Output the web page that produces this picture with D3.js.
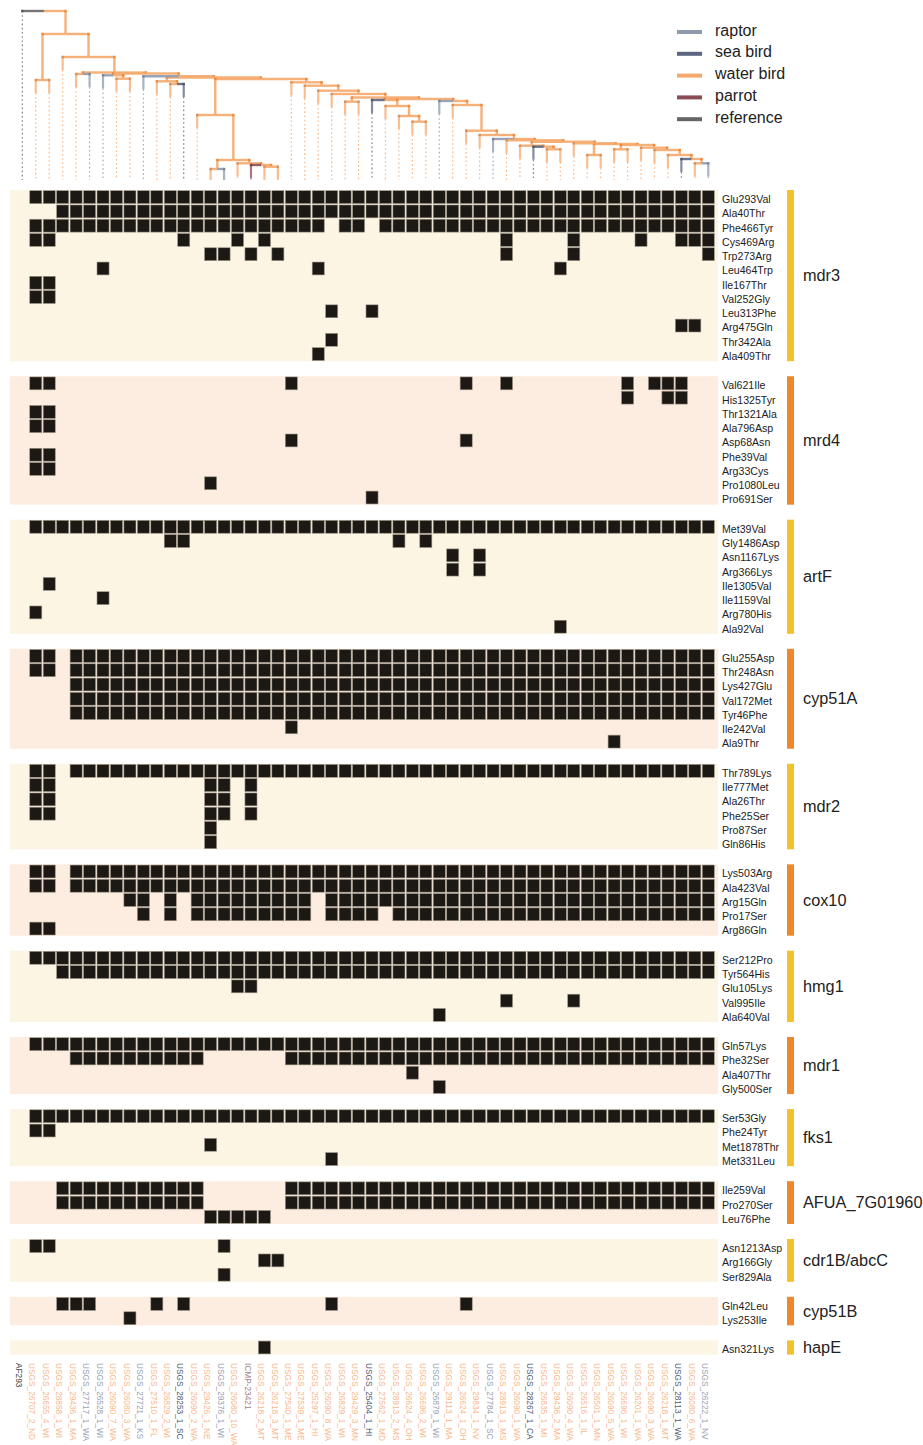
<!DOCTYPE html>
<html><head><meta charset="utf-8">
<script src="https://cdn.jsdelivr.net/npm/d3@7"></script>
<style>
body{margin:0;background:#fff;}
svg{display:block;font-family:"Liberation Sans",Arial,Helvetica,sans-serif;}
</style></head><body>
<svg id="chart" width="923" height="1445"></svg>
<script>
// Isolates, in dendrogram leaf order
const strains = ["AF293","USGS_26707_2_ND","USGS_26655_4_WI","USGS_28858_1_WI","USGS_29436_1_MA","USGS_27717_1_WA","USGS_26528_1_WI","USGS_26090_7_WA","USGS_26080_3_WA","USGS_27721_1_KS","USGS_27510_1_FL","USGS_26829_2_WI","USGS_28253_1_SC","USGS_26090_2_WA","USGS_29426_1_NE","USGS_29376_1_WI","USGS_26080_10_WA","ICMP-23421","USGS_26218_2_MT","USGS_26218_3_MT","USGS_27540_1_ME","USGS_27539_1_ME","USGS_25297_1_HI","USGS_26090_8_WA","USGS_26829_1_WI","USGS_29429_3_MN","USGS_25404_1_HI","USGS_27562_1_MD","USGS_28913_2_MS","USGS_26624_4_OH","USGS_26696_2_WI","USGS_26879_1_WI","USGS_29113_1_MA","USGS_26624_1_OH","USGS_29834_1_NV","USGS_27784_1_SC","USGS_28913_1_MS","USGS_26090_1_WA","USGS_28267_1_CA","USGS_26835_1_MI","USGS_29436_2_MA","USGS_26090_4_WA","USGS_26516_1_IL","USGS_26501_1_MN","USGS_26090_5_WA","USGS_26696_1_WI","USGS_26201_1_WA","USGS_26090_3_WA","USGS_26218_1_MT","USGS_28113_1_WA","USGS_26080_6_WA","USGS_26222_1_NV"];

// Host group of each isolate
const hosts = ["reference","water bird","water bird","water bird","water bird","raptor","raptor","water bird","water bird","raptor","water bird","water bird","sea bird","water bird","water bird","raptor","water bird","parrot","water bird","water bird","water bird","water bird","water bird","water bird","water bird","water bird","sea bird","water bird","water bird","water bird","water bird","raptor","water bird","water bird","water bird","raptor","water bird","water bird","sea bird","water bird","water bird","water bird","water bird","water bird","water bird","water bird","water bird","water bird","water bird","sea bird","water bird","raptor"];

const hostGroups = ["raptor","sea bird","water bird","parrot","reference"];
const hostColors = ["#8e9aae","#5c6580","#f5a86c","#8b4d55","#666666"];
const hostLabelColors = ["#98a1b4","#525b76","#f8b88c","#a1838a","#444444"];

// Dendrogram: [height, left, right]; leaves are isolate indices
const tree =
[1.69, 0,
 [1.46,
  [1.00, 1, 2],
  [1.23, 3,
   [1.075,
    [1.06, 4, 5],
    [1.065,
     [1.047, 6, [1.013, 7, 8]],
     [1.037, 9,
      [1.025,
       [0.987, 10, [0.96, 11, 12]],
       [1.01,
        [0.65, 13, [0.20, [0.11, 14, 15], [0.167, 16, [0.15, 17, [0.133, 18, 19]]]]],
        [0.977, 20, [0.943, 21, [0.893, 22, [0.86, 23,
         [0.825, [0.783, 24, 25],
          [0.81,
           [0.80, 26, [0.74, 27, [0.64, 28, [0.583, 29, 30]]]],
           [0.79, 31, [0.75, 32, [0.493, 33, [0.45, 34, [0.41, 35, [0.397, 36,
            [0.383,
             [0.343, 37, [0.333, 38, [0.307, 39, 40]]],
             [0.367, 41, [0.36, [0.25, 42, 43],
               [0.35, [0.307, 44, 45], [0.323, 46, [0.30, 47, [0.25, 48, [0.21, 49, [0.167, 50, 51]]]]]]]]
            ]]]]]]]
          ]
         ]
        ]]]]
       ]
      ]
     ]
    ]
   ]
  ]
 ]
];

// Genes and their variants; each variant lists the isolate columns carrying it
const genes = ["mdr3","mrd4","artF","cyp51A","mdr2","cox10","hmg1","mdr1","fks1","AFUA_7G01960","cdr1B/abcC","cyp51B","hapE"];

const mdr3 = [
  ["Glu293Val","1-51"],["Ala40Thr","3-51"],["Phe466Tyr","1-22,24,25,27-51"],
  ["Cys469Arg","1,2,12,16,18,36,41,46,49,50,51"],["Trp273Arg","14,15,17,19,36,41,51"],
  ["Leu464Trp","6,22,40"],["Ile167Thr","1,2"],["Val252Gly","1,2"],["Leu313Phe","23,26"],
  ["Arg475Gln","49,50"],["Thr342Ala","23"],["Ala409Thr","22"]];
const mrd4 = [
  ["Val621Ile","1,2,20,33,36,45,47,48,49"],["His1325Tyr","45,48,49"],["Thr1321Ala","1,2"],
  ["Ala796Asp","1,2"],["Asp68Asn","20,33"],["Phe39Val","1,2"],["Arg33Cys","1,2"],
  ["Pro1080Leu","14"],["Pro691Ser","26"]];
const artF = [
  ["Met39Val","1-51"],["Gly1486Asp","11,12,28,30"],["Asn1167Lys","32,34"],["Arg366Lys","32,34"],
  ["Ile1305Val","2"],["Ile1159Val","6"],["Arg780His","1"],["Ala92Val","40"]];
const cyp51A = [
  ["Glu255Asp","1,2,4-51"],["Thr248Asn","1,2,4-51"],["Lys427Glu","4-51"],["Val172Met","4-51"],
  ["Tyr46Phe","4-51"],["Ile242Val","20"],["Ala9Thr","44"]];
const mdr2 = [
  ["Thr789Lys","1,2,4-51"],["Ile777Met","1,2,14,15,17"],["Ala26Thr","1,2,14,15,17"],
  ["Phe25Ser","1,2,14,15,17"],["Pro87Ser","14"],["Gln86His","14"]];
const cox10 = [
  ["Lys503Arg","1,2,4-51"],["Ala423Val","1,2,4-51"],["Arg15Gln","8,9,11,13-21,23-51"],
  ["Pro17Ser","9,11,13-21,23-26,28-51"],["Arg86Gln","1,2"]];
const hmg1 = [
  ["Ser212Pro","1-51"],["Tyr564His","3-51"],["Glu105Lys","16,17"],["Val995Ile","36,41"],["Ala640Val","31"]];
const mdr1 = [
  ["Gln57Lys","1-51"],["Phe32Ser","4-13,20-51"],["Ala407Thr","29"],["Gly500Ser","31"]];
const fks1 = [
  ["Ser53Gly","1-51"],["Phe24Tyr","1,2"],["Met1878Thr","14"],["Met331Leu","23"]];
const afua7g01960 = [
  ["Ile259Val","3-13,20-51"],["Pro270Ser","3-13,20-51"],["Leu76Phe","14-18"]];
const cdr1b = [
  ["Asn1213Asp","1,2,15"],["Arg166Gly","18,19"],["Ser829Ala","15"]];
const cyp51B = [
  ["Gln42Leu","3,4,5,10,12,23,33"],["Lys253Ile","8"]];
const hapE = [["Asn321Lys","18"]];

const variantsByGene = [mdr3, mrd4, artF, cyp51A, mdr2, cox10, hmg1, mdr1, fks1, afua7g01960, cdr1b, cyp51B, hapE];

// ---------- helpers ----------
function parseCols(s){
  const out = [];
  s.split(",").forEach(p => {
    const [a,b] = p.split("-").map(Number);
    if (b === undefined) out.push(a); else for (let i=a;i<=b;i++) out.push(i);
  });
  return out;
}
const hostColor = d3.scaleOrdinal().domain(hostGroups).range(hostColors);
const hostLabelColor = d3.scaleOrdinal().domain(hostGroups).range(hostLabelColors);

const svg = d3.select("#chart");

// ---------- layout ----------
const x = d3.scaleBand().domain(strains).range([15.6, 715]).padding(0);
const bw = x.bandwidth();
const yTree = d3.scaleLinear().domain([0, 1.69]).range([180, 11]);

const rowH = 14.27, blockGap = 15, heatTop = 190;
const panelLeft = 10, panelRight = 718;

// ---------- dendrogram ----------
const root = d3.hierarchy(tree, d => Array.isArray(d) ? d.slice(1) : null);
root.eachAfter(n => {
  n.h = Array.isArray(n.data) ? n.data[0] : 0;
  n.px = n.children ? d3.mean(n.children, c => c.px) : x(strains[n.data]) + bw/2;
  n.py = yTree(n.h);
});

const gTree = svg.append("g");
const waterColor = hostColor("water bird");
const links = root.descendants().filter(n => n.parent);
links.sort((a,b) => (a.children ? 0 : 1) - (b.children ? 0 : 1));

links.forEach(n => {
  const p = n.parent;
  const col = n.children ? waterColor : hostColor(hosts[n.data]);
  const isRef = !n.children && hosts[n.data] === "reference";
  // horizontal from child towards parent centre
  gTree.append("line")
    .attr("x1", n.px).attr("x2", p.px).attr("y1", p.py).attr("y2", p.py)
    .attr("stroke", col).attr("stroke-width", 2.4).attr("stroke-opacity", 0.9);
  if (n.children) {
    gTree.append("line")
      .attr("x1", n.px).attr("x2", n.px).attr("y1", p.py).attr("y2", n.py)
      .attr("stroke", col).attr("stroke-width", 2.4).attr("stroke-opacity", 0.9);
  } else {
    const solidEnd = isRef ? p.py : Math.min(p.py + 13, 180);
    if (!isRef) {
      gTree.append("line")
        .attr("x1", n.px).attr("x2", n.px).attr("y1", p.py).attr("y2", solidEnd)
        .attr("stroke", col).attr("stroke-width", 2.2).attr("stroke-opacity", 0.75);
    }
    gTree.append("line")
      .attr("x1", n.px).attr("x2", n.px).attr("y1", solidEnd).attr("y2", 180)
      .attr("stroke", col).attr("stroke-width", 1.2).attr("stroke-opacity", 0.8)
      .attr("stroke-dasharray", "1.6,2.6");
  }
  // small knot where a branch meets its parent
  gTree.append("rect")
    .attr("x", n.px - 1.2).attr("y", p.py - 1.2).attr("width", 2.4).attr("height", 2.4)
    .attr("fill", n.children ? "#ef8a3c" : d3.color(col).darker(0.4));
});

// ---------- legend ----------
const legend = svg.append("g");
hostGroups.forEach((g, i) => {
  const ly = 32 + i * 21.8;
  legend.append("line").attr("x1", 677).attr("x2", 702).attr("y1", ly).attr("y2", ly)
    .attr("stroke", hostColor(g)).attr("stroke-width", 4);
  legend.append("text").attr("x", 715).attr("y", ly).attr("dy", "0.22em")
    .attr("font-size", 16).attr("fill", "#222").text(g);
});

// ---------- heatmap blocks ----------
const bgFill = ["#fcf5e4", "#fdede0"];
const barFill = ["#f2c12e", "#f0872b"];
let blockTop = heatTop;
const gHeat = svg.append("g");
genes.forEach((gene, gi) => {
  const rows = variantsByGene[gi];
  const h = rows.length * rowH;
  const y = d3.scaleBand().domain(rows.map(r => r[0])).range([blockTop, blockTop + h]);
  gHeat.append("rect").attr("x", panelLeft).attr("y", blockTop)
    .attr("width", panelRight - panelLeft).attr("height", h).attr("fill", bgFill[gi % 2]);
  gHeat.append("rect").attr("x", 787).attr("y", blockTop).attr("width", 7).attr("height", h)
    .attr("fill", barFill[gi % 2]);
  gHeat.append("text").attr("x", 803).attr("y", blockTop + h/2).attr("dy", "0.35em")
    .attr("font-size", 16.3).attr("fill", "#222").text(gene);
  rows.forEach(([name, cols]) => {
    const ry = y(name);
    parseCols(cols).forEach(c => {
      gHeat.append("rect")
        .attr("x", x(strains[c]) + 0.7).attr("y", ry + 0.7)
        .attr("width", bw - 1.4).attr("height", rowH - 1.4)
        .attr("fill", "#1c1814").attr("stroke", "#9b9386").attr("stroke-width", 0.6);
    });
    gHeat.append("text").attr("x", 722).attr("y", ry + rowH/2 + 2.2).attr("dy", "0.35em")
      .attr("font-size", 10.6).attr("fill", "#222").text(name);
  });
  blockTop += h + blockGap;
});

// ---------- isolate labels ----------
const gLab = svg.append("g");
strains.forEach((s, i) => {
  gLab.append("text")
    .attr("transform", `translate(${x(s) + bw/2 - 3.4},1363) rotate(90)`)
    .attr("dy", "0.35em").attr("font-size", 8.3)
    .attr("fill", hostLabelColor(hosts[i])).text(s);
});
</script>
</body></html>
